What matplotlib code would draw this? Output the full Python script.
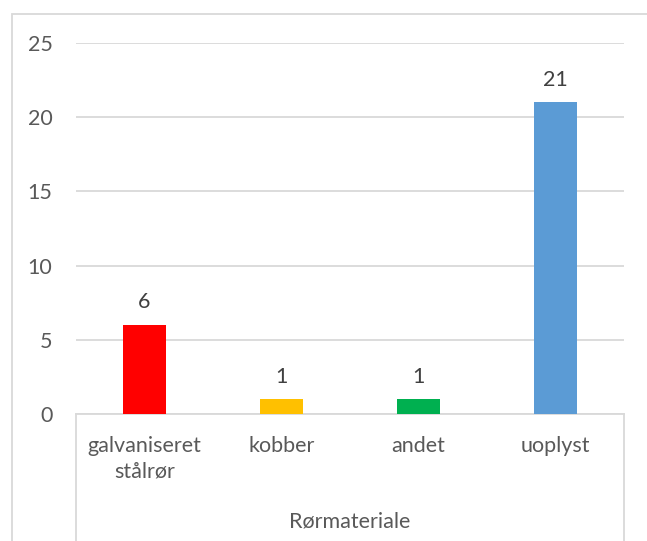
import matplotlib.pyplot as plt
from matplotlib.patches import Rectangle
from matplotlib.lines import Line2D

# data
categories = ["galvaniseret\nstålrør", "kobber", "andet", "uoplyst"]
values = [6, 1, 1, 21]
colors = ["#FF0000", "#FFC000", "#00B050", "#5B9BD5"]
axis_title = "Rørmateriale"

plt.rcParams['font.family'] = ['Lato', 'DejaVu Sans']
text_color = "#595959"
grid_color = "#D9D9D9"
fs = 15.5

W, H = 647, 541
fig = plt.figure(figsize=(W / 100, H / 100), dpi=100)

# outer chart frame (extends beyond image on right/bottom)
fig.patches.append(Rectangle((12 / W, -0.1), 1.2, 1 - 14 / H + 0.1,
                             transform=fig.transFigure, fill=False,
                             edgecolor=grid_color, linewidth=1.3))

left, right = 76 / W, 624 / W
bottom, top = 1 - 414 / H, 1 - 43 / H
ax = fig.add_axes([left, bottom, right - left, top - bottom])

x = range(len(categories))
bars = ax.bar(x, values, width=0.32, color=colors, zorder=3)

ax.set_xlim(-0.5, len(categories) - 0.5)
ax.set_ylim(0, 25)
ax.set_yticks(range(0, 26, 5))
ax.yaxis.grid(True, color=grid_color, linewidth=1.3, zorder=0)
for s in ["top", "right", "left"]:
    ax.spines[s].set_visible(False)
ax.spines["bottom"].set_color(grid_color)
ax.spines["bottom"].set_linewidth(1.3)
ax.tick_params(axis="y", length=0, pad=17, labelsize=fs, labelcolor=text_color)
ax.tick_params(axis="x", length=0, pad=16, labelsize=fs, labelcolor=text_color)
ax.set_xticks(list(x))
ax.set_xticklabels(categories, linespacing=1.3)

for b, v in zip(bars, values):
    ax.annotate(str(v), (b.get_x() + b.get_width() / 2, v),
                xytext=(0, 9), textcoords="offset points",
                ha="center", va="bottom", fontsize=fs, color="#404040")

# multi-level category axis boundary lines
for xp in (left, right):
    fig.add_artist(Line2D([xp, xp], [0, bottom], transform=fig.transFigure,
                          color=grid_color, linewidth=1.3))

fig.text((left + right) / 2, 1 - 521 / H, axis_title, ha="center", va="center",
         fontsize=fs, color=text_color)

fig.savefig("out.png", dpi=100)
